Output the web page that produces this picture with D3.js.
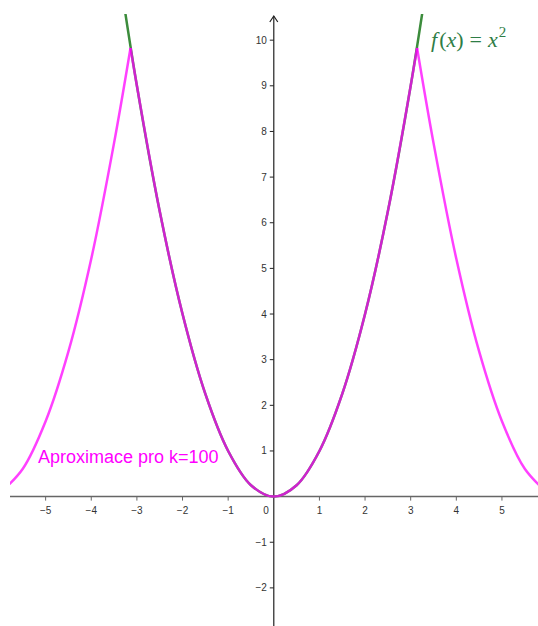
<!DOCTYPE html>

<html>

<body>
    <svg id="chart"></svg>
</body>

</html>

<style>
    body {
        margin: 0;
        background: #fff;
    }

    .tick-label {
        font-family: "Liberation Sans", Arial, sans-serif;
        font-size: 10px;
        fill: #333;
    }
</style>

<script src="https://cdn.jsdelivr.net/npm/d3@7"></script>
<script type="module">
    "use strict"
    const width = 538;
    const height = 626;

    // f(x) = x^2
    const parabolaX = [-3.4, -3, -2.5, -2, -1.5, -1, -0.5, 0, 0.5, 1, 1.5, 2, 2.5, 3, 3.4];
    const parabolaY = [11.56, 9, 6.25, 4, 2.25, 1, 0.25, 0, 0.25, 1, 2.25, 4, 6.25, 9, 11.56];

    // approximation for k=100, three arches split at the peaks
    const leftArchX = [-6.0, -5.5, -5.0, -4.5, -4.0, -3.5, -3.14];
    const leftArchY = [0.08, 0.61, 1.65, 3.18, 5.21, 7.75, 9.83];
    const midArchX = [-3.14, -3, -2.5, -2, -1.5, -1, -0.5, 0, 0.5, 1, 1.5, 2, 2.5, 3, 3.14];
    const midArchY = [9.83, 9, 6.25, 4, 2.25, 1, 0.25, 0, 0.25, 1, 2.25, 4, 6.25, 9, 9.83];
    const rightArchX = [3.14, 3.5, 4.0, 4.5, 5.0, 5.5, 6.0];
    const rightArchY = [9.83, 7.75, 5.21, 3.18, 1.65, 0.61, 0.08];

    const xTicks = [-5, -4, -3, -2, -1, 1, 2, 3, 4, 5];
    const yTicks = [-2, -1, 1, 2, 3, 4, 5, 6, 7, 8, 9, 10];

    const svg = d3.select("#chart")
        .attr("width", width)
        .attr("height", height);

    const x = d3.scaleLinear().domain([-6, 5.79]).range([0, width]);
    const y = d3.scaleLinear().domain([-2.835, 10.88]).range([height, 0]);

    svg.append("defs").append("clipPath")
        .attr("id", "plot-clip")
        .append("rect")
        .attr("x", 10).attr("y", 14)
        .attr("width", width - 10).attr("height", height - 14);

    const fmt = v => v < 0 ? "\u2212" + Math.abs(v) : String(v);

    // x axis
    svg.append("line")
        .attr("x1", 10).attr("x2", width)
        .attr("y1", y(0)).attr("y2", y(0))
        .attr("stroke", "#666").attr("stroke-width", 1.5);

    svg.selectAll(".xtick")
        .data(xTicks)
        .enter().append("line")
        .attr("x1", d => x(d)).attr("x2", d => x(d))
        .attr("y1", y(0)).attr("y2", y(0) + 4)
        .attr("stroke", "#666");

    svg.selectAll(".xlabel")
        .data(xTicks)
        .enter().append("text")
        .attr("class", "tick-label")
        .attr("x", d => x(d))
        .attr("y", y(0) + 17)
        .attr("text-anchor", "middle")
        .text(fmt);

    svg.append("text")
        .attr("class", "tick-label")
        .attr("x", x(0) - 5)
        .attr("y", y(0) + 17)
        .attr("text-anchor", "end")
        .text("0");

    // y axis
    svg.append("line")
        .attr("x1", x(0)).attr("x2", x(0))
        .attr("y1", height).attr("y2", 16)
        .attr("stroke", "#222").attr("stroke-width", 1.2);

    svg.append("path")
        .attr("d", `M${x(0) - 4},${22} L${x(0)},${16} L${x(0) + 4},${22}`)
        .attr("fill", "none")
        .attr("stroke", "#222").attr("stroke-width", 1.2);

    svg.selectAll(".ytick")
        .data(yTicks)
        .enter().append("line")
        .attr("x1", x(0) - 4).attr("x2", x(0))
        .attr("y1", d => y(d)).attr("y2", d => y(d))
        .attr("stroke", "#222");

    svg.selectAll(".ylabel")
        .data(yTicks)
        .enter().append("text")
        .attr("class", "tick-label")
        .attr("x", x(0) - 7)
        .attr("y", d => y(d) + 3.5)
        .attr("text-anchor", "end")
        .text(fmt);

    // curves
    const line = d3.line()
        .x(d => x(d[0]))
        .y(d => y(d[1]))
        .curve(d3.curveCatmullRom);

    const zip = (xs, ys) => xs.map((v, i) => [v, ys[i]]);

    const plot = svg.append("g").attr("clip-path", "url(#plot-clip)");

    plot.append("path")
        .datum(zip(parabolaX, parabolaY))
        .attr("d", line)
        .attr("fill", "none")
        .attr("stroke", "#3c8c3c")
        .attr("stroke-width", 2.5);

    const arches = [
        zip(leftArchX, leftArchY),
        zip(midArchX, midArchY),
        zip(rightArchX, rightArchY)
    ];

    plot.selectAll(".arch")
        .data(arches)
        .enter().append("path")
        .attr("d", line)
        .attr("fill", "none")
        .attr("stroke", "#ff00ff")
        .attr("stroke-opacity", 0.75)
        .attr("stroke-width", 2.5)
        .attr("stroke-linejoin", "miter");

    // labels
    svg.append("text")
        .attr("x", 38)
        .attr("y", 463)
        .attr("font-family", "Liberation Sans, Arial, sans-serif")
        .attr("font-size", 18)
        .attr("fill", "#ff00ff")
        .text("Aproximace pro k=100");

    const fLabel = svg.append("text")
        .attr("x", 431)
        .attr("y", 47)
        .attr("font-family", "Liberation Serif, DejaVu Serif, serif")
        .attr("font-size", 22)
        .attr("fill", "#2e7d46");

    fLabel.append("tspan").attr("font-style", "italic").text("f");
    fLabel.append("tspan").attr("dx", 2).text("(");
    fLabel.append("tspan").attr("font-style", "italic").text("x");
    fLabel.append("tspan").text(")");
    fLabel.append("tspan").attr("dx", 6).text("=");
    fLabel.append("tspan").attr("dx", 6).attr("font-style", "italic").text("x");
    fLabel.append("tspan").attr("font-size", 15).attr("dx", 1).attr("dy", -10).text("2");

</script>
